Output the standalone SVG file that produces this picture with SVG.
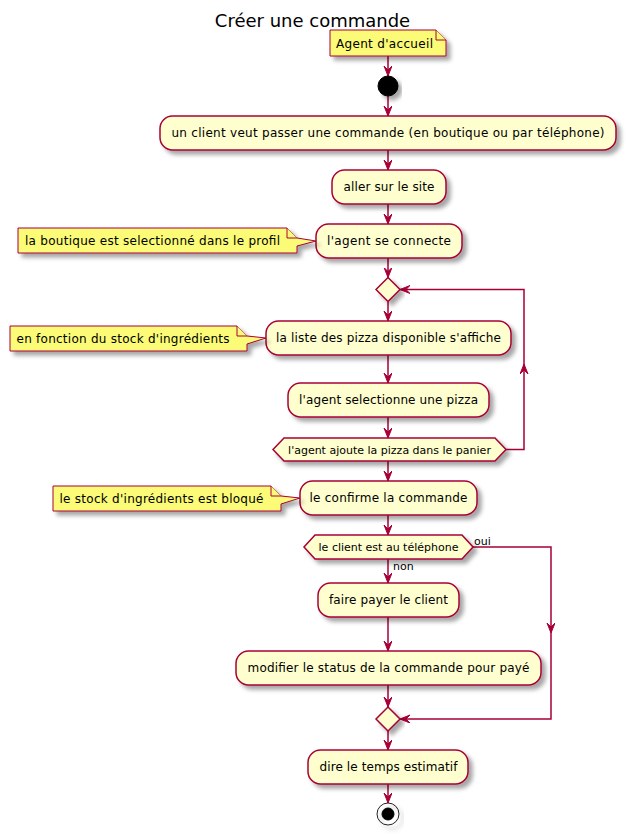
<svg xmlns="http://www.w3.org/2000/svg" width="626" height="834" viewBox="0 0 626 834">
<defs>
<filter id="sh" x="-10%" y="-20%" width="130%" height="160%">
<feGaussianBlur in="SourceAlpha" stdDeviation="2"/>
<feColorMatrix type="matrix" values="0 0 0 0 0  0 0 0 0 0  0 0 0 0 0  0 0 0 0.35 0"/>
<feOffset dx="4" dy="4" result="b"/>
<feBlend in="SourceGraphic" in2="b" mode="normal"/>
</filter>
<marker id="ah" markerUnits="userSpaceOnUse" markerWidth="12" markerHeight="10" refX="10" refY="4" orient="auto" viewBox="0 0 12 10">
<path d="M0,0 L10,4 L0,8 L4,4 Z" fill="#A80036" stroke="#A80036" stroke-width="1"/>
</marker>
</defs>
<style>
text{font-family:"DejaVu Sans","Liberation Sans",sans-serif;fill:#000}
.act rect{fill:#FEFECE;stroke:#A80036;stroke-width:1.5}
.act text{font-size:12px;text-anchor:middle}
.note path{fill:#FBFB77;stroke:#A80036;stroke-width:1}
.note text{font-size:12px}
.hex polygon{fill:#FEFECE;stroke:#A80036;stroke-width:1.5}
.hex text{font-size:11px;text-anchor:middle}
.dia polygon{fill:#FEFECE;stroke:#A80036;stroke-width:1.5}
#connectors path{fill:none;stroke:#A80036;stroke-width:1.5;marker-end:url(#ah)}
#connectors text{font-size:11px}
</style>
<rect width="626" height="834" fill="#fff"/>
<text x="312.5" y="27" font-size="18" text-anchor="middle">Créer une commande</text>

<g id="connectors">
<path d="M388,56 L388,76"/>
<path d="M388,96 L388,116"/>
<path d="M388,150 L388,170"/>
<path d="M388,204 L388,224"/>
<path d="M388,258 L388,277.5"/>
<path d="M388,301.5 L388,321"/>
<path d="M388,355 L388,383"/>
<path d="M388,417 L388,438"/>
<path d="M506,449.5 L524,449.5 L524,364"/>
<path d="M524,364 L524,289.5 L400,289.5"/>
<path d="M388,461 L388,481"/>
<path d="M388,515 L388,535"/>
<path d="M388,559 L388,583"/>
<text x="393" y="570">non</text>
<path d="M473,547 L551,547 L551,633"/>
<text x="474" y="545">oui</text>
<path d="M551,633 L551,719 L400,719"/>
<path d="M388,617 L388,651"/>
<path d="M388,685 L388,707"/>
<path d="M388,731 L388,750"/>
<path d="M388,784 L388,803"/>
</g>

<g id="note-agent" class="note">
<path d="M330,30 L436,30 L446,40 L446,56 L330,56 Z" filter="url(#sh)"/>
<path d="M436,30 L436,40 L446,40"/>
<text x="336" y="48" textLength="97" lengthAdjust="spacing">Agent d'accueil</text>
</g>

<g id="start">
<circle cx="388" cy="86" r="10" fill="#000" stroke="#000" stroke-width="1" filter="url(#sh)"/>
</g>

<g id="a1" class="act">
<rect x="160" y="116" width="456" height="34" rx="12.5" filter="url(#sh)"/>
<text x="388" y="137" textLength="433" lengthAdjust="spacing">un client veut passer une commande (en boutique ou par téléphone)</text>
</g>

<g id="a2" class="act">
<rect x="332" y="170" width="114" height="34" rx="12.5" filter="url(#sh)"/>
<text x="389" y="191" textLength="91" lengthAdjust="spacing">aller sur le site</text>
</g>

<g id="a3" class="act">
<rect x="316" y="224" width="146" height="34" rx="12.5" filter="url(#sh)"/>
<text x="389" y="245" textLength="124" lengthAdjust="spacing">l'agent se connecte</text>
</g>

<g id="note-boutique" class="note">
<path d="M18,228 L287,228 L297,238 L297,238 L316,241 L297,246 L297,253 L18,253 Z" filter="url(#sh)"/>
<path d="M287,228 L287,238 L297,238"/>
<text x="25" y="245" textLength="255" lengthAdjust="spacing">la boutique est selectionné dans le profil</text>
</g>

<g id="merge1" class="dia">
<polygon points="388,277.5 400,289.5 388,301.5 376,289.5" filter="url(#sh)"/>
</g>

<g id="a4" class="act">
<rect x="266" y="321" width="245" height="34" rx="12.5" filter="url(#sh)"/>
<text x="388.5" y="342" textLength="225" lengthAdjust="spacing">la liste des pizza disponible s'affiche</text>
</g>

<g id="note-stock" class="note">
<path d="M10,326 L237,326 L247,336 L247,336 L266,338 L247,344 L247,351 L10,351 Z" filter="url(#sh)"/>
<path d="M237,326 L237,336 L247,336"/>
<text x="16.5" y="343" textLength="213" lengthAdjust="spacing">en fonction du stock d'ingrédients</text>
</g>

<g id="a5" class="act">
<rect x="288" y="383" width="201" height="34" rx="12.5" filter="url(#sh)"/>
<text x="388.5" y="404" textLength="179" lengthAdjust="spacing">l'agent selectionne une pizza</text>
</g>

<g id="loop-cond" class="hex">
<polygon points="273,449.5 284,438 495,438 506,449.5 495,461 284,461" filter="url(#sh)"/>
<text x="389.5" y="453.5">l'agent ajoute la pizza dans le panier</text>
</g>

<g id="a6" class="act">
<rect x="300" y="481" width="177" height="34" rx="12.5" filter="url(#sh)"/>
<text x="388.5" y="502" textLength="158" lengthAdjust="spacing">le confirme la commande</text>
</g>

<g id="note-bloque" class="note">
<path d="M53,486 L271,486 L281,496 L281,496 L300,498 L281,504 L281,511 L53,511 Z" filter="url(#sh)"/>
<path d="M271,486 L271,496 L281,496"/>
<text x="59.5" y="503" textLength="204" lengthAdjust="spacing">le stock d'ingrédients est bloqué</text>
</g>

<g id="if-tel" class="hex">
<polygon points="304,547 315,535 462,535 473,547 462,559 315,559" filter="url(#sh)"/>
<text x="388.5" y="551">le client est au téléphone</text>
</g>

<g id="a7" class="act">
<rect x="318" y="583" width="141" height="34" rx="12.5" filter="url(#sh)"/>
<text x="388.5" y="604" textLength="119" lengthAdjust="spacing">faire payer le client</text>
</g>

<g id="a8" class="act">
<rect x="236" y="651" width="305" height="34" rx="12.5" filter="url(#sh)"/>
<text x="388.5" y="672" textLength="282" lengthAdjust="spacing">modifier le status de la commande pour payé</text>
</g>

<g id="merge2" class="dia">
<polygon points="388,707 400,719 388,731 376,719" filter="url(#sh)"/>
</g>

<g id="a9" class="act">
<rect x="308" y="750" width="160" height="34" rx="12.5" filter="url(#sh)"/>
<text x="388.5" y="771" textLength="138" lengthAdjust="spacing">dire le temps estimatif</text>
</g>

<g id="end">
<circle cx="388" cy="814" r="11" fill="none" stroke="#222" stroke-width="1" filter="url(#sh)"/>
<circle cx="388" cy="814" r="6" fill="#000" stroke="#000" stroke-width="1"/>
</g>
</svg>
